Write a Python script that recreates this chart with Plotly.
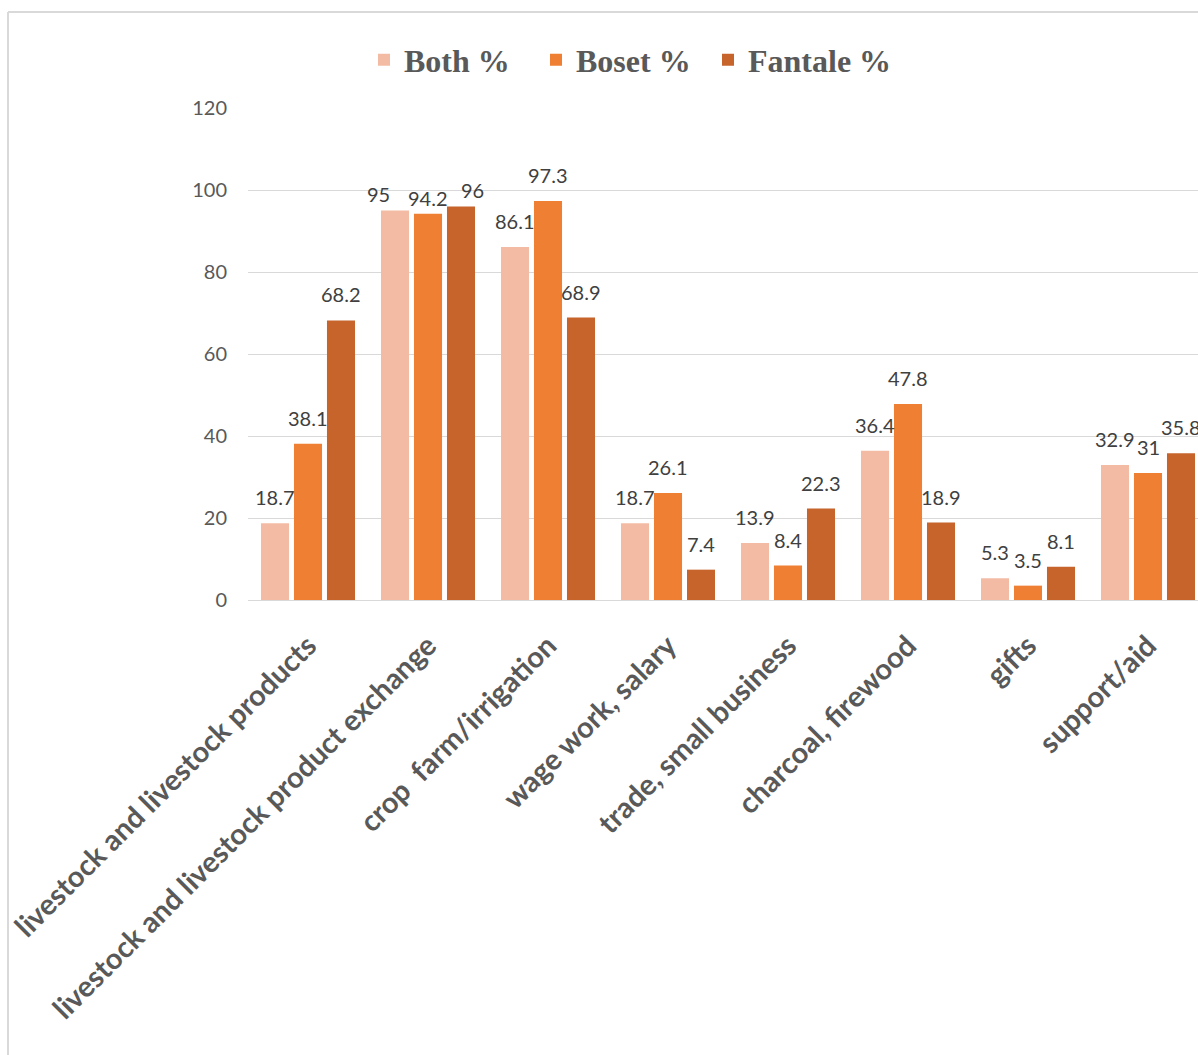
import plotly.graph_objects as go

categories = [
    "livestock and livestock products",
    "livestock and livestock product exchange",
    "crop \u00a0farm/irrigation",
    "wage work, salary",
    "trade, small business",
    "charcoal, firewood",
    "gifts",
    "support/aid",
]
series_names = ["Both %", "Boset %", "Fantale %"]
both = [18.7, 95, 86.1, 18.7, 13.9, 36.4, 5.3, 32.9]
boset = [38.1, 94.2, 97.3, 26.1, 8.4, 47.8, 3.5, 31]
fantale = [68.2, 96, 68.9, 7.4, 22.3, 18.9, 8.1, 35.8]
y_ticks = [0, 20, 40, 60, 80, 100, 120]

colors = ["#F3BBA4", "#EF7F33", "#C6642C"]
series = [both, boset, fantale]

# label nudges (px) used by the original to avoid overlapping labels: (series, category) -> (dx, dy)
label_nudge = {(0, 1): (-17, -9), (1, 1): (0, -10), (2, 1): (11, -10)}

W, H = 1198, 1055
L, T, B = 248, 108, 455
slot_px = 33

fig = go.Figure()
for name, vals, col in zip(series_names, series, colors):
    fig.add_trace(go.Bar(
        name=name, x=categories, y=vals,
        marker=dict(color=col, line=dict(width=0)),
    ))
# invisible spacer entry so the last legend label is not clipped by the fixed entry width
fig.add_trace(go.Scatter(
    x=[None], y=[None], mode="markers", name=" ",
    marker=dict(color="rgba(0,0,0,0)"), hoverinfo="skip",
))

annotations = []
for i, vals in enumerate(series):
    for j, (c, v) in enumerate(zip(categories, vals)):
        dx, dy = label_nudge.get((i, j), (0, 0))
        annotations.append(dict(
            x=c, y=v, xref="x", yref="y", text=f"{v:g}", showarrow=False,
            xanchor="center", yanchor="bottom", xshift=(i - 1) * slot_px + dx, yshift=12 + dy,
            font=dict(family="Lato, Carlito, Calibri, sans-serif", size=20, color="#404040"),
        ))

plot_w = W - L
cat_px = 120
x_hi = -0.5 + plot_w / cat_px

fig.update_layout(
    width=W, height=H,
    margin=dict(l=L, r=0, t=T, b=B, pad=0),
    paper_bgcolor="white", plot_bgcolor="white",
    barmode="group", bargap=0.175, bargroupgap=0.15,
    showlegend=True,
    legend=dict(
        orientation="h", xref="container", yref="container",
        x=364 / W, xanchor="left", y=1 - 60 / H, yanchor="middle",
        font=dict(family="Liberation Serif, Times New Roman, serif", size=32, color="#595959", weight="bold"),
        itemsizing="constant", bgcolor="rgba(0,0,0,0)",
        entrywidth=127, entrywidthmode="pixels", itemwidth=30,
    ),
    xaxis=dict(
        range=[-0.5, x_hi], tickangle=-45, showgrid=False, showline=False,
        ticks="", ticklabelstandoff=22,
        tickfont=dict(family="Lato, Carlito, Calibri, sans-serif", size=29, color="#595959", weight="bold"),
        automargin=False,
    ),
    yaxis=dict(
        range=[0, 120], tickvals=y_ticks, showgrid=True, gridcolor="#D9D9D9", gridwidth=1,
        zeroline=True, zerolinecolor="#D9D9D9", zerolinewidth=1, showline=False, ticks="",
        ticklabelstandoff=20,
        tickfont=dict(family="Lato, Carlito, Calibri, sans-serif", size=20, color="#595959"),
        automargin=False,
    ),
    annotations=annotations,
    shapes=[
        dict(type="line", xref="paper", yref="paper",
             x0=(8 - L) / plot_w, x1=1.05, y0=1 + (T - 12) / (H - T - B), y1=1 + (T - 12) / (H - T - B),
             line=dict(color="#D9D9D9", width=2)),
        dict(type="line", xref="paper", yref="paper",
             x0=(8 - L) / plot_w, x1=(8 - L) / plot_w, y0=1 + (T - 12) / (H - T - B), y1=-B / (H - T - B) - 0.05,
             line=dict(color="#D9D9D9", width=2)),
    ],
)

fig.write_html("out.html")
